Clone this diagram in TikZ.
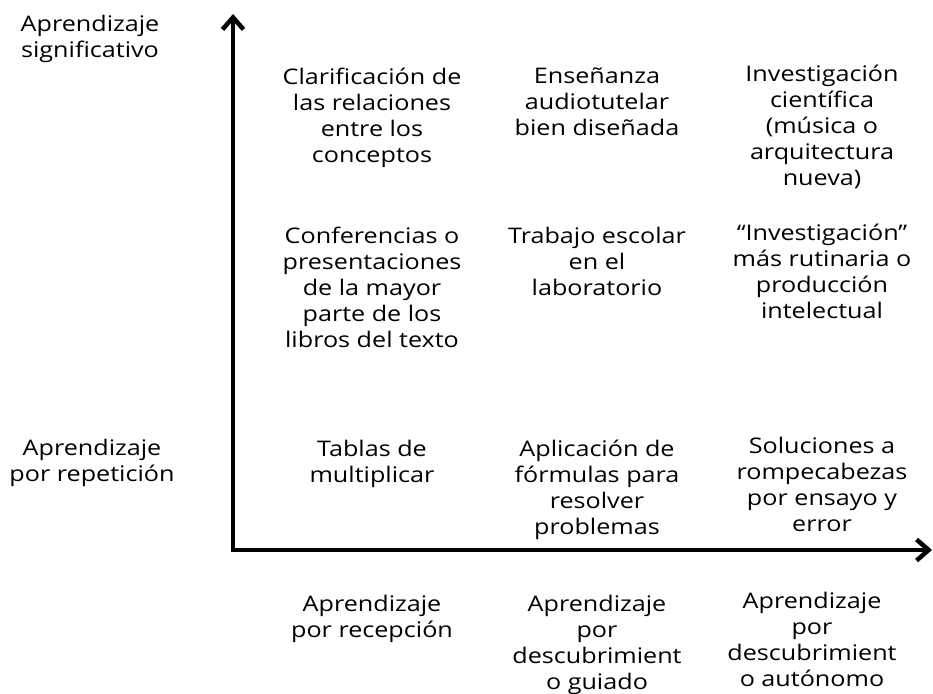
\documentclass[tikz,border=0pt]{standalone}
\usepackage{fontspec}
\setmainfont{Open Sans}[FakeStretch=1.17]
\usepackage{tikz}
\usetikzlibrary{arrows.meta,positioning}
\tikzset{>={Straight Barb[length=12pt,width=21pt]},
	axis/.style={% the two thick axes
		line width=4.5pt,
		line cap=butt,
		line join=miter,
		->
	},
	cell/.style={% multi-line texts, hung from their top
		align=center,
		anchor=north,
		inner sep=0pt,
		font=\fontsize{21.5}{26}\selectfont
	}
}
\begin{document}
\begin{tikzpicture}[x=1pt,y=-1pt]
                        \useasboundingbox (0,0) rectangle (933,693);
                        % axes
                        \coordinate (o) at (233,550);
                        \coordinate (ytop) at (233,14);
                        \coordinate (xend) at (932,550);
                        % labels of the vertical axis
                        \node [cell] (significativo) at (90,15) {Aprendizaje\\significativo};
                        \node [cell] (repeticion) at (92,439) {Aprendizaje\\por repetición};
                        % first row
                        \node [cell] (c11) at (372,68) {Clarificación de\\las relaciones\\entre los\\conceptos};
                        \node [cell] (c12) at (597,68) {Enseñanza\\audiotutelar\\bien diseñada};
                        \node [cell] (c13) at (822,65) {Investigación\\científica\\(música o\\arquitectura\\nueva)};
                        % second row
                        \node [cell] (c21) at (372,227) {Conferencias o\\presentaciones\\de la mayor\\parte de los\\libros del texto};
                        \node [cell] (c22) at (597,227) {Trabajo escolar\\en el\\laboratorio};
                        \node [cell] (c23) at (822,224) {“Investigación”\\más rutinaria o\\producción\\intelectual};
                        % third row
                        \node [cell] (c31) at (372,440) {Tablas de\\multiplicar};
                        \node [cell] (c32) at (597,440) {Aplicación de\\fórmulas para\\resolver\\problemas};
                        \node [cell] (c33) at (822,437) {Soluciones a\\rompecabezas\\por ensayo y\\error};
                        % labels of the horizontal axis
                        \node [cell] (recepcion) at (372,595) {Aprendizaje\\por recepción};
                        \node [cell] (guiado) at (597,595) {Aprendizaje\\por\\descubrimient\\o guiado};
                        \node [cell] (autonomo) at (812,592) {Aprendizaje\\por\\descubrimient\\o autónomo};
                        \draw [axis] (o) -- (ytop);
                        \draw [axis] (o) -- (xend);
                        \fill (o) ++(-2.25,-2.25) rectangle ++(4.5,4.5);
                \end{tikzpicture}
\end{document}
